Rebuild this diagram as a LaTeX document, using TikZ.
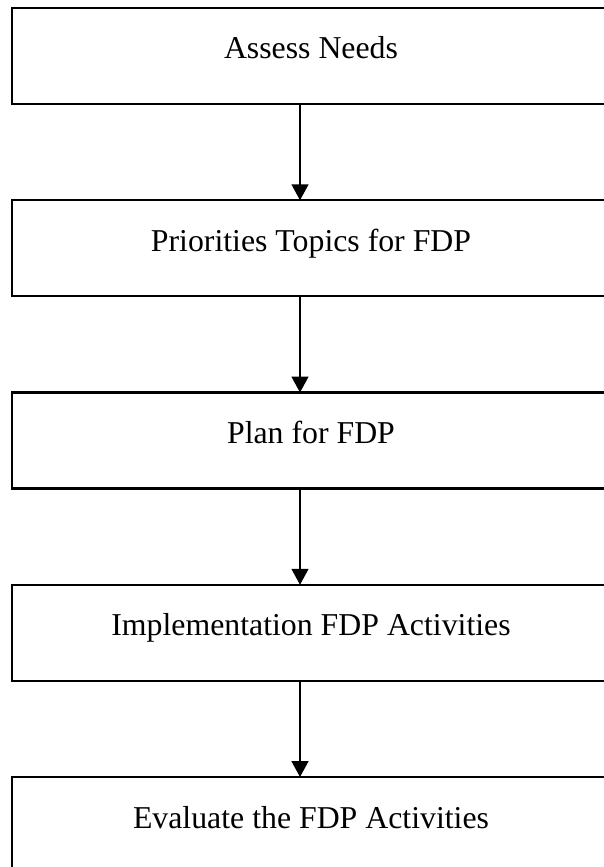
\documentclass[tikz,border=0pt]{standalone}
\usepackage{fontspec}
\setmainfont{Liberation Serif}
\usepackage{tikz}
\usetikzlibrary{positioning, calc, arrows.meta}
\tikzset{stage/.style={draw, line width=2.4pt, inner sep=0pt, outer sep=0pt, minimum width=598pt, text height=51pt, text depth=45pt, font=\fontsize{31.8}{38}\selectfont}}
\tikzset{flow/.style={-{Triangle[width=17pt,length=16pt]}, line width=1.6pt}}

\begin{document}
\begin{tikzpicture}
      \useasboundingbox (0,0) rectangle (604pt,-867pt);
      \clip (0,0) rectangle (604pt,-867pt);

      \node[stage, anchor=north west] (needs) at (12pt,-8pt) {Assess Needs};
      \node[stage] (topics) [below=96.25pt of needs] {Priorities Topics for FDP};
      \node[stage] (plan) [below=96.25pt of topics] {Plan for FDP};
      \node[stage] (impl) [below=96.25pt of plan] {Implementation FDP Activities};
      \node[stage] (eval) [below=96.25pt of impl] {Evaluate the FDP Activities};

      \draw[flow] ([xshift=288pt]needs.south west) -- ([xshift=288pt]topics.north west);
      \draw[flow] ([xshift=288pt]topics.south west) -- ([xshift=288pt]plan.north west);
      \draw[flow] ([xshift=288pt]plan.south west) -- ([xshift=288pt]impl.north west);
      \draw[flow] ([xshift=288pt]impl.south west) -- ([xshift=288pt]eval.north west);

    \end{tikzpicture}
\end{document}
